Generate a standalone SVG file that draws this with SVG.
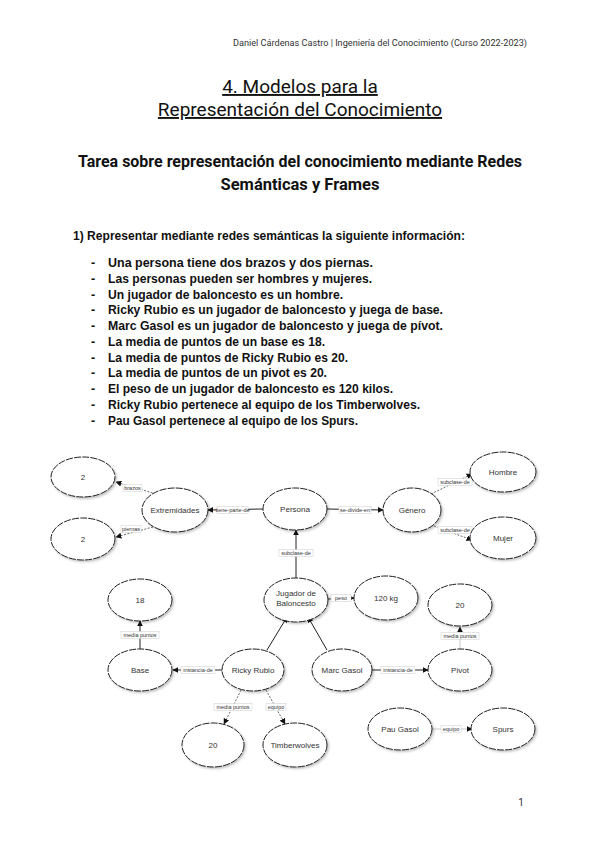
<svg xmlns="http://www.w3.org/2000/svg" width="600" height="848" viewBox="0 0 600 848">
<style>
.hdr{font-family:Roboto,"Liberation Sans",sans-serif;font-size:9px;fill:#333}
.title{font-family:Roboto,"Liberation Sans",sans-serif;font-size:19px;fill:#111;text-anchor:middle;text-decoration:underline}
.sub{font-family:Roboto,"Liberation Sans",sans-serif;font-size:16.5px;font-weight:bold;fill:#111;text-anchor:middle}
.li{font-family:"Liberation Sans",Arial,sans-serif;font-size:12.5px;font-weight:bold;fill:#111}
.node ellipse{fill:#fff;stroke:#222;stroke-width:1;stroke-dasharray:7 1.2;filter:url(#sh)}
.node text{font-family:"Liberation Sans",Arial,sans-serif;font-size:8px;fill:#333;text-anchor:middle}
.e{stroke:#222;stroke-width:1;fill:none}
.d{stroke:#444;stroke-width:0.8;fill:none;stroke-dasharray:2 1.5}
.g{stroke:#bbb;stroke-width:0.8;fill:none}
.lb rect{fill:#fff;stroke:#ccc;stroke-width:0.5}
.lb text{font-family:"Liberation Sans",Arial,sans-serif;font-size:5.5px;fill:#333;text-anchor:middle}
</style>
<defs>
<filter id="sh" x="-20%" y="-20%" width="150%" height="150%">
<feDropShadow dx="1.5" dy="1.5" stdDeviation="1" flood-color="#000" flood-opacity="0.25"/>
</filter>
<marker id="a" viewBox="0 0 10 10" refX="9" refY="5" markerWidth="6" markerHeight="6" orient="auto" markerUnits="userSpaceOnUse">
<path d="M0,0 L10,5 L0,10 z" fill="#111"/>
</marker>
</defs>
<rect width="600" height="848" fill="#fff"/>
<text class="hdr" x="527" y="46" text-anchor="end" textLength="294" lengthAdjust="spacingAndGlyphs">Daniel Cárdenas Castro | Ingeniería del Conocimiento (Curso 2022-2023)</text>
<text class="title" x="300" y="93">4. Modelos para la</text>
<text class="title" x="300" y="116">Representación del Conocimiento</text>
<text class="sub" x="300" y="167" textLength="444" lengthAdjust="spacingAndGlyphs">Tarea sobre representación del conocimiento mediante Redes</text>
<text class="sub" x="300" y="190">Semánticas y Frames</text>
<text class="li" x="73" y="240" textLength="392" lengthAdjust="spacingAndGlyphs">1) Representar mediante redes semánticas la siguiente información:</text>
<g class="li">
<text x="91" y="267">-</text><text x="108" y="267" textLength="265" lengthAdjust="spacingAndGlyphs">Una persona tiene dos brazos y dos piernas.</text>
<text x="91" y="283">-</text><text x="108" y="283" textLength="264" lengthAdjust="spacingAndGlyphs">Las personas pueden ser hombres y mujeres.</text>
<text x="91" y="299">-</text><text x="108" y="299" textLength="235" lengthAdjust="spacingAndGlyphs">Un jugador de baloncesto es un hombre.</text>
<text x="91" y="314">-</text><text x="108" y="314" textLength="335" lengthAdjust="spacingAndGlyphs">Ricky Rubio es un jugador de baloncesto y juega de base.</text>
<text x="91" y="330">-</text><text x="108" y="330" textLength="335" lengthAdjust="spacingAndGlyphs">Marc Gasol es un jugador de baloncesto y juega de pívot.</text>
<text x="91" y="346">-</text><text x="108" y="346" textLength="217" lengthAdjust="spacingAndGlyphs">La media de puntos de un base es 18.</text>
<text x="91" y="362">-</text><text x="108" y="362" textLength="240" lengthAdjust="spacingAndGlyphs">La media de puntos de Ricky Rubio es 20.</text>
<text x="91" y="377">-</text><text x="108" y="377" textLength="219" lengthAdjust="spacingAndGlyphs">La media de puntos de un pivot es 20.</text>
<text x="91" y="393">-</text><text x="108" y="393" textLength="285" lengthAdjust="spacingAndGlyphs">El peso de un jugador de baloncesto es 120 kilos.</text>
<text x="91" y="409">-</text><text x="108" y="409" textLength="312" lengthAdjust="spacingAndGlyphs">Ricky Rubio pertenece al equipo de los Timberwolves.</text>
<text x="91" y="425">-</text><text x="108" y="425" textLength="250" lengthAdjust="spacingAndGlyphs">Pau Gasol pertenece al equipo de los Spurs.</text>
</g>

<g id="connectors">
<line class="e" x1="263" y1="509" x2="208" y2="510" marker-end="url(#a)"/>
<line class="d" x1="156" y1="494" x2="116" y2="482" marker-end="url(#a)"/>
<line class="d" x1="153" y1="527" x2="116" y2="537" marker-end="url(#a)"/>
<line class="e" x1="327" y1="509" x2="383" y2="510" marker-end="url(#a)"/>
<line class="d" x1="431" y1="494" x2="472" y2="474" marker-end="url(#a)"/>
<line class="d" x1="431" y1="525" x2="472" y2="540" marker-end="url(#a)"/>
<line class="e" x1="296" y1="578" x2="296" y2="530" marker-end="url(#a)"/>
<line class="e" x1="328" y1="599" x2="354" y2="598" marker-end="url(#a)"/>
<line class="e" x1="267" y1="650" x2="287" y2="617" marker-end="url(#a)" stroke-width="0.8"/>
<line class="e" x1="327" y1="650" x2="308" y2="617" marker-end="url(#a)" stroke-width="0.8"/>
<line class="e" x1="222" y1="670" x2="173" y2="670" marker-end="url(#a)"/>
<line class="e" x1="140" y1="649" x2="140" y2="621" marker-end="url(#a)"/>
<line class="e" x1="372" y1="670" x2="428" y2="670" marker-end="url(#a)"/>
<line class="g" x1="460" y1="649" x2="460" y2="627" marker-end="url(#a)"/>
<line class="d" x1="241" y1="690" x2="224" y2="724" marker-end="url(#a)"/>
<line class="d" x1="266" y1="690" x2="285" y2="724" marker-end="url(#a)"/>
<line class="g" x1="432" y1="729" x2="472" y2="729" marker-end="url(#a)"/>
<g class="lb">
<rect x="217" y="506.5" width="31" height="7"/><text x="232.5" y="512">tiene-parte-de</text>
<rect x="123" y="484.5" width="19" height="7"/><text x="132.5" y="490">brazos</text>
<rect x="121" y="525.5" width="20" height="7"/><text x="131" y="531">piernas</text>
<rect x="339" y="506.5" width="32" height="7"/><text x="355" y="512">se-divide-en</text>
<rect x="438" y="478.5" width="34" height="7"/><text x="455" y="484">subclase-de</text>
<rect x="438" y="526.5" width="34" height="7"/><text x="455" y="532">subclase-de</text>
<rect x="279" y="549.5" width="34" height="7"/><text x="296" y="555">subclase-de</text>
<rect x="331" y="594.5" width="20" height="7"/><text x="341" y="600">peso</text>
<rect x="181" y="666.5" width="34" height="7"/><text x="198" y="672">instancia-de</text>
<rect x="121" y="631.5" width="38" height="7"/><text x="140" y="637">media puntos</text>
<rect x="381" y="666.5" width="34" height="7"/><text x="398" y="672">instancia-de</text>
<rect x="441" y="632.5" width="38" height="7"/><text x="460" y="638">media puntos</text>
<rect x="214" y="703.5" width="38" height="7"/><text x="233" y="709">media puntos</text>
<rect x="266" y="703.5" width="20" height="7"/><text x="276" y="709">equipo</text>
<rect x="441" y="725.5" width="20" height="7"/><text x="451" y="731">equipo</text>
</g>
</g>

<g id="n-2a" class="node"><ellipse cx="83" cy="477" rx="32" ry="20"/><text x="83" y="480">2</text></g>
<g id="n-2b" class="node"><ellipse cx="83" cy="539" rx="32" ry="21"/><text x="83" y="542">2</text></g>
<g id="n-extremidades" class="node"><ellipse cx="175" cy="510" rx="33" ry="22"/><text x="175" y="513">Extremidades</text></g>
<g id="n-persona" class="node"><ellipse cx="295" cy="509" rx="32" ry="21"/><text x="295" y="512">Persona</text></g>
<g id="n-genero" class="node"><ellipse cx="412" cy="510" rx="29" ry="22"/><text x="412" y="513">Género</text></g>
<g id="n-hombre" class="node"><ellipse cx="503" cy="472" rx="33" ry="20"/><text x="503" y="475">Hombre</text></g>
<g id="n-mujer" class="node"><ellipse cx="503" cy="538" rx="33" ry="21"/><text x="503" y="541">Mujer</text></g>
<g id="n-jugador" class="node"><ellipse cx="296" cy="600" rx="32" ry="22"/><text x="296" y="596">Jugador de</text><text x="296" y="606">Baloncesto</text></g>
<g id="n-120kg" class="node"><ellipse cx="386" cy="598" rx="32" ry="22"/><text x="386" y="601">120 kg</text></g>
<g id="n-18" class="node"><ellipse cx="140" cy="600" rx="32" ry="21"/><text x="140" y="603">18</text></g>
<g id="n-20a" class="node"><ellipse cx="460" cy="605" rx="32" ry="21"/><text x="460" y="608">20</text></g>
<g id="n-base" class="node"><ellipse cx="140" cy="670" rx="32" ry="21"/><text x="140" y="673">Base</text></g>
<g id="n-ricky" class="node"><ellipse cx="253" cy="670" rx="31" ry="21"/><text x="253" y="673">Ricky Rubio</text></g>
<g id="n-marc" class="node"><ellipse cx="342" cy="670" rx="30" ry="21"/><text x="342" y="673">Marc Gasol</text></g>
<g id="n-pivot" class="node"><ellipse cx="460" cy="670" rx="32" ry="21"/><text x="460" y="673">Pivot</text></g>
<g id="n-20b" class="node"><ellipse cx="213" cy="745" rx="31" ry="22"/><text x="213" y="748">20</text></g>
<g id="n-timberwolves" class="node"><ellipse cx="295" cy="745" rx="32" ry="22"/><text x="295" y="748">Timberwolves</text></g>
<g id="n-pau" class="node"><ellipse cx="400" cy="729" rx="32" ry="21"/><text x="400" y="732">Pau Gasol</text></g>
<g id="n-spurs" class="node"><ellipse cx="503" cy="729" rx="32" ry="21"/><text x="503" y="732">Spurs</text></g>

<text x="521" y="806" font-family="Roboto,'Liberation Sans',sans-serif" font-size="10" fill="#333" text-anchor="middle">1</text>
</svg>
